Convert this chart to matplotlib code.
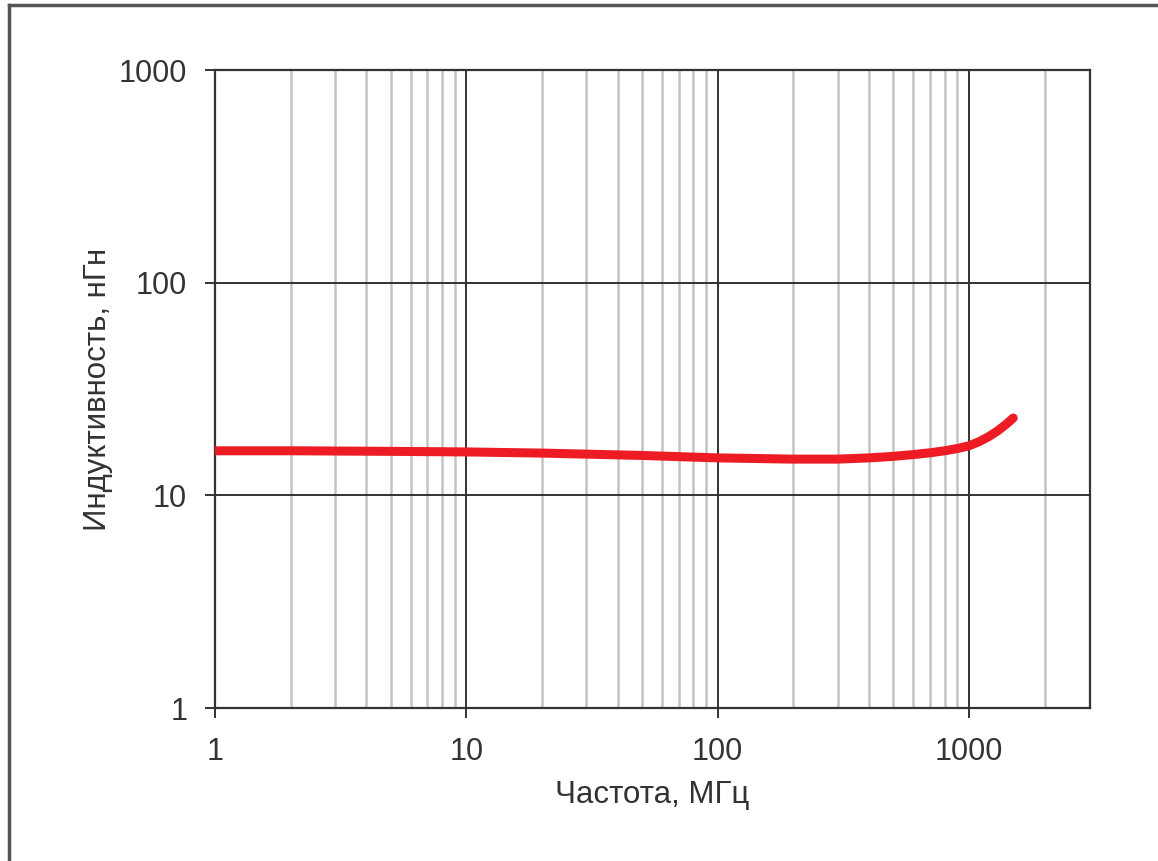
import matplotlib
matplotlib.use('Agg')
import matplotlib.pyplot as plt
from matplotlib.ticker import FixedLocator, NullFormatter

# frequency, MHz and inductance, nH
freq = [1, 2, 5, 10, 20, 50, 100, 200, 300, 400, 500, 600, 700, 800, 900, 1000, 1100, 1200, 1300, 1400, 1500]
induct = [16.2, 16.2, 16.1, 16.0, 15.8, 15.4, 15.0, 14.8, 14.8, 15.0, 15.25, 15.55, 15.85, 16.2, 16.6, 17.1, 17.9, 18.9, 20.1, 21.5, 23.1]

xticks = [1, 10, 100, 1000]
yticks = [1, 10, 100, 1000]
xminor = [2, 3, 4, 5, 6, 7, 8, 9, 20, 30, 40, 50, 60, 70, 80, 90,
          200, 300, 400, 500, 600, 700, 800, 900, 2000]

plt.rcParams['font.family'] = ['Liberation Sans', 'DejaVu Sans']
dark = '#333333'

fig = plt.figure(figsize=(11.58, 8.61), dpi=100)
ax = fig.add_axes([215/1158, 1 - 708/861, 875/1158, 638/861])

ax.set_xscale('log')
ax.set_yscale('log')
ax.set_xlim(1, 3030)
ax.set_ylim(1, 1000)

ax.xaxis.set_major_locator(FixedLocator(xticks))
ax.xaxis.set_minor_locator(FixedLocator(xminor))
ax.xaxis.set_minor_formatter(NullFormatter())
ax.yaxis.set_major_locator(FixedLocator(yticks))
ax.yaxis.set_minor_locator(FixedLocator([]))
ax.set_xticklabels([str(v) for v in xticks])
ax.set_yticklabels([str(v) for v in yticks])

ax.grid(True, which='minor', axis='x', color='#c4c4c4', lw=1.8)
ax.grid(True, which='major', color=dark, lw=1.4)
ax.set_axisbelow(True)

ax.tick_params(which='major', direction='out', length=7, width=1.4, color=dark,
               labelsize=22, labelcolor=dark)
ax.tick_params(axis='x', pad=14)
ax.tick_params(axis='y', pad=13)
ax.tick_params(which='minor', length=0)
for sp in ax.spines.values():
    sp.set_color(dark)
    sp.set_linewidth(1.6)

ax.plot(freq, induct, color='#ED1C24', lw=6.5, solid_capstyle='round',
        solid_joinstyle='round', zorder=5)

ax.set_xlabel('Частота, МГц', fontsize=22.5, color=dark, labelpad=9)
ax.set_ylabel('Индуктивность, нГн', fontsize=22.5, color=dark, labelpad=4)

# outer frame (left and top edges)
fig.add_artist(plt.Line2D([9/1158, 9/1158], [0, 1 - 5/861], color='#555555', lw=2.5,
                          transform=fig.transFigure))
fig.add_artist(plt.Line2D([9/1158, 1], [1 - 5/861, 1 - 5/861], color='#555555', lw=2.5,
                          transform=fig.transFigure))

fig.savefig('out.png', dpi=100)
